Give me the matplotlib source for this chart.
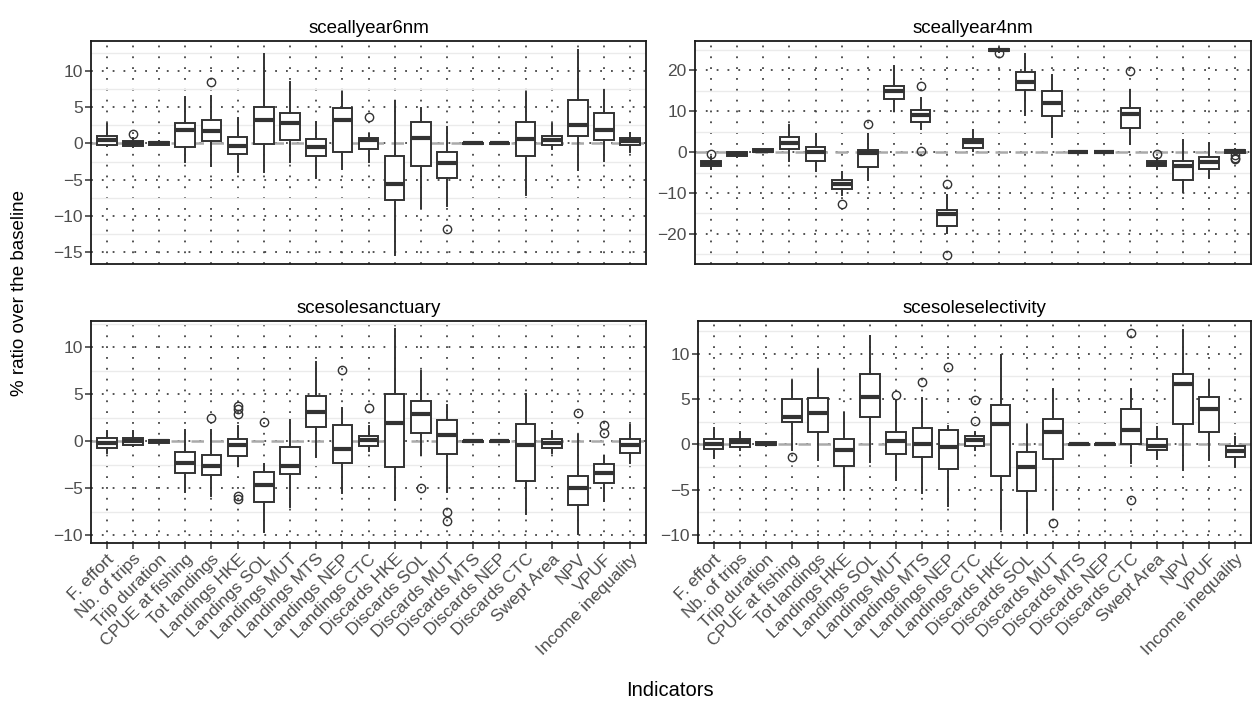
import matplotlib
matplotlib.use("Agg")
import matplotlib.pyplot as plt
from matplotlib.ticker import MultipleLocator

plt.rcParams['font.family'] = ['Liberation Sans', 'DejaVu Sans']

# ---- indicators ---- #
indicators = ["F. effort", "Nb. of trips", "Trip duration", "CPUE at fishing", "Tot landings",
              "Landings HKE", "Landings SOL", "Landings MUT", "Landings MTS", "Landings NEP",
              "Landings CTC", "Discards HKE", "Discards SOL", "Discards MUT", "Discards MTS",
              "Discards NEP", "Discards CTC", "Swept Area", "NPV", "VPUF", "Income inequality"]

# ---- sceallyear6nm ---- #
s6_lo = [-0.4, -0.5, -0.25, -2.5, -3.1, -4.0, -4.0, -2.6, -4.8, -3.5, -2.5, -15.4, -8.9, -8.6, -0.1, -0.1, -7.1, -0.8, -3.7, -2.4, -1.2]
s6_q1 = [-0.28, -0.32, -0.2, -0.5, 0.3, -1.4, -0.1, 0.5, -1.7, -1.2, -0.8, -7.8, -3.1, -4.75, -0.08, -0.08, -1.7, -0.28, 1.0, 0.55, -0.2]
s6_med = [0.5, 0.0, 0.05, 1.9, 1.75, -0.37, 3.3, 2.9, -0.5, 3.3, 0.45, -5.6, 0.8, -2.7, 0.0, 0.0, 0.6, 0.45, 2.6, 1.8, 0.35]
s6_q3 = [1.06, 0.28, 0.25, 2.9, 3.3, 0.9, 5.0, 4.2, 0.6, 4.9, 0.8, -1.8, 3.0, -1.25, 0.08, 0.08, 3.0, 1.06, 6.0, 4.2, 0.8]
s6_hi = [2.67, 0.7, 0.3, 6.4, 6.6, 3.5, 12.4, 8.5, 3.0, 7.2, 1.3, 5.9, 4.9, 2.25, 0.1, 0.1, 7.1, 2.7, 12.9, 7.4, 1.5]
s6_out = {1: [1.3], 4: [8.5], 10: [3.7], 13: [-11.8]}

# ---- sceallyear4nm ---- #
s4_lo = [-4.1, -1.1, -0.05, -2.2, -4.7, -10.4, -6.9, 10.0, 5.7, -19.8, 0.3, 24.6, 9.2, 3.8, -0.1, -0.1, 2.0, -4.1, -9.8, -6.4, -0.3]
s4_q1 = [-3.35, -1.0, 0.0, 0.65, -2.3, -9.0, -3.7, 12.9, 7.3, -18.1, 1.1, 24.75, 15.1, 8.8, -0.08, -0.08, 6.0, -3.35, -6.8, -4.1, -0.15]
s4_med = [-2.7, -0.5, 0.3, 2.3, 0.0, -7.9, -0.3, 14.9, 9.0, -15.1, 2.4, 25.0, 17.1, 12.1, 0.0, 0.0, 9.4, -2.8, -3.3, -2.4, 0.15]
s4_q3 = [-2.1, 0.0, 0.65, 3.6, 1.2, -6.9, 0.5, 16.3, 10.2, -14.3, 3.3, 25.25, 19.6, 14.9, 0.08, 0.08, 10.9, -2.3, -2.3, -1.2, 0.6]
s4_hi = [-1.2, -0.1, 0.7, 6.7, 4.5, -4.9, 4.5, 21.2, 13.2, -10.4, 5.5, 25.5, 23.9, 18.8, 0.1, 0.1, 15.1, -1.5, 3.0, 2.2, 0.65]
s4_out = {0: [-0.4], 5: [-12.7], 6: [6.8], 8: [16.2, 0.2], 9: [-7.8, -25.1], 11: [24.3],
          16: [19.8], 17: [-0.4], 20: [-0.8, -1.5, -1.8]}

# ---- scesolesanctuary ---- #
ss_lo = [-1.2, -0.5, -0.2, -5.35, -5.85, -2.6, -9.6, -7.0, -1.7, -5.5, -1.0, -6.2, -1.4, -5.35, -0.1, -0.1, -7.7, -1.2, -9.8, -6.3, -2.25]
ss_q1 = [-0.74, -0.35, -0.18, -3.4, -3.6, -1.6, -6.4, -3.5, 1.55, -2.25, -0.5, -2.7, 0.9, -1.35, -0.08, -0.08, -4.2, -0.74, -6.8, -4.45, -1.2]
ss_med = [-0.14, 0.0, 0.0, -2.3, -2.6, -0.35, -4.65, -2.6, 3.1, -0.85, 0.2, 2.0, 2.95, 0.7, 0.0, 0.0, -0.4, -0.2, -5.0, -3.4, -0.4]
ss_q3 = [0.35, 0.35, 0.18, -1.1, -1.45, 0.28, -3.3, -0.6, 4.8, 1.7, 0.55, 5.0, 4.25, 2.25, 0.08, 0.08, 1.85, 0.3, -3.65, -2.35, 0.3]
ss_hi = [1.1, 1.1, 0.2, 1.2, 1.2, 1.6, -2.4, 2.3, 8.4, 3.5, 1.6, 12.0, 7.5, 3.9, 0.1, 0.1, 5.0, 1.1, 0.65, -1.5, 1.7]
ss_out = {4: [2.45], 5: [3.8, 3.4, 2.95, -5.8, -6.1], 6: [2.05], 9: [7.6], 10: [3.5],
          12: [-5.0], 13: [-7.5, -8.5], 18: [3.0], 19: [1.7, 0.9]}

# ---- scesoleselectivity ---- #
se_lo = [-1.55, -0.6, -0.15, -0.65, -1.75, -5.0, -1.95, -4.0, -5.35, -6.8, -0.65, -9.3, -9.8, -7.2, -0.1, -0.1, -2.1, -1.6, -2.85, -1.75, -2.5]
se_q1 = [-0.5, -0.3, -0.12, 2.4, 1.4, -2.4, 3.0, -1.1, -1.4, -2.75, -0.2, -3.5, -5.15, -1.6, -0.08, -0.08, 0.0, -0.6, 2.25, 1.4, -1.4]
se_med = [0.0, 0.25, 0.05, 3.0, 3.45, -0.65, 5.2, 0.35, 0.0, -0.3, 0.45, 2.25, -2.5, 1.4, 0.0, 0.0, 1.55, -0.2, 6.6, 3.9, -0.8]
se_q3 = [0.6, 0.6, 0.25, 5.0, 5.1, 0.6, 7.7, 1.4, 1.8, 1.55, 0.9, 4.3, -0.85, 2.75, 0.08, 0.08, 3.9, 0.6, 7.7, 5.2, -0.2]
se_hi = [1.8, 1.35, 0.3, 7.0, 8.2, 3.4, 11.9, 4.75, 5.1, 2.05, 1.4, 9.8, 2.1, 6.1, 0.1, 0.1, 6.1, 1.9, 12.6, 7.1, 0.8]
se_out = {3: [-1.4], 7: [5.45], 8: [6.9], 9: [8.5], 10: [4.9, 2.6], 13: [-8.65], 16: [12.3, -6.2]}

panels = [
    ("sceallyear6nm", s6_lo, s6_q1, s6_med, s6_q3, s6_hi, s6_out, (-16.7, 14.2), 5),
    ("sceallyear4nm", s4_lo, s4_q1, s4_med, s4_q3, s4_hi, s4_out, (-27.4, 27.2), 10),
    ("scesolesanctuary", ss_lo, ss_q1, ss_med, ss_q3, ss_hi, ss_out, (-10.8, 12.8), 5),
    ("scesoleselectivity", se_lo, se_q1, se_med, se_q3, se_hi, se_out, (-10.9, 13.6), 5),
]

# ---- panel positions (pixels: left, right, top, bottom) ---- #
W, H = 1255, 705
boxes_px = [(91, 646, 41, 264), (695, 1251, 41, 264), (91, 646, 321, 543), (698, 1251, 321, 543)]

fig = plt.figure(figsize=(W / 100, H / 100), dpi=100)
dark = "#333333"
tick_col = "#4D4D4D"

for k, (title, lo, q1, med, q3, hi, out, ylim, step) in enumerate(panels):
    l, r, t, b = boxes_px[k]
    ax = fig.add_axes([l / W, 1 - b / H, (r - l) / W, (b - t) / H])
    stats = []
    for i in range(len(indicators)):
        stats.append(dict(whislo=lo[i], q1=q1[i], med=med[i], q3=q3[i], whishi=hi[i],
                          fliers=out.get(i, []), label=indicators[i]))
    pos = list(range(1, len(indicators) + 1))
    ax.bxp(stats, positions=pos, widths=0.75, showcaps=False, patch_artist=True,
           boxprops=dict(facecolor="white", edgecolor=dark, linewidth=1.4),
           whiskerprops=dict(color=dark, linewidth=1.4),
           medianprops=dict(color=dark, linewidth=3.0, solid_capstyle="butt"),
           flierprops=dict(marker="o", markersize=6, markerfacecolor="none",
                           markeredgecolor=dark, markeredgewidth=1.0),
           zorder=3)
    ax.axhline(0, color="#AAAAAA", linestyle=(0, (5, 3)), linewidth=1.8, zorder=2.5)

    ax.set_xlim(0.4, len(indicators) + 0.6)
    ax.set_ylim(*ylim)
    ax.yaxis.set_major_locator(MultipleLocator(step))
    ax.yaxis.set_minor_locator(MultipleLocator(step / 2))
    ax.set_axisbelow(True)
    ax.grid(which="major", axis="both", color="#444444", linestyle=(0, (1, 5)), linewidth=1.3)
    ax.grid(which="minor", axis="y", color="#EBEBEB", linestyle="-", linewidth=1.0)
    ax.tick_params(axis="y", which="minor", length=0)
    ax.tick_params(axis="both", which="major", length=4, color=dark, width=1.1,
                   labelsize=12.5, labelcolor=tick_col, pad=2)
    for sp in ax.spines.values():
        sp.set_color("#1A1A1A")
        sp.set_linewidth(1.3)
    ax.set_xticks(pos)
    if k >= 2:
        ax.set_xticklabels(indicators, rotation=45, ha="right", va="top",
                           rotation_mode="anchor")
    else:
        ax.set_xticklabels([])
        ax.tick_params(axis="x", length=0)
    ax.set_title(title, fontsize=13.5, color="black", pad=6)

fig.text(670 / W, 1 - 690 / H, "Indicators", ha="center", va="center", fontsize=14.5)
fig.text(20 / W, 1 - 293 / H, "% ratio over the baseline", ha="center", va="center",
         rotation=90, fontsize=13.5)

plt.savefig("out.png", dpi=100)
